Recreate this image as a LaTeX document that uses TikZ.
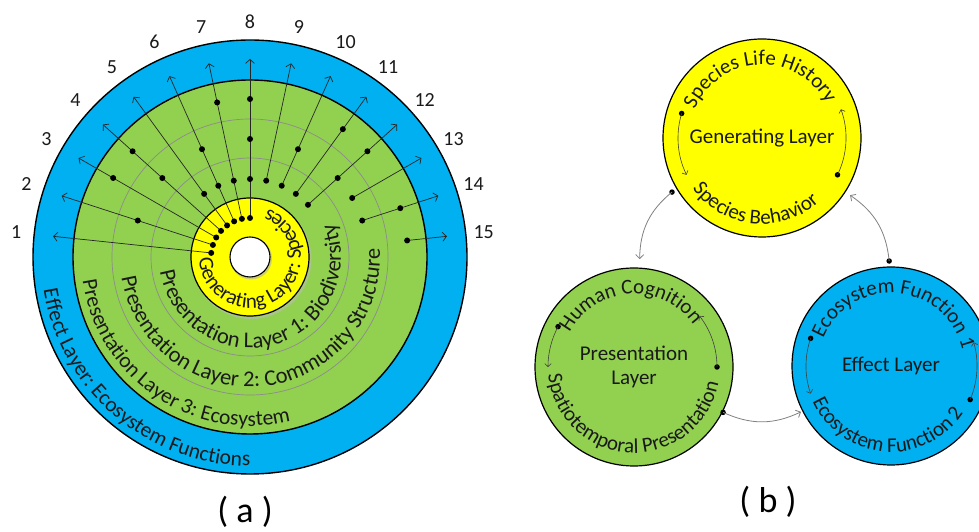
\documentclass[tikz,border=0pt]{standalone}
\usepackage{fontspec}
\setmainfont{Carlito}
\usetikzlibrary{arrows.meta,decorations.text}
\definecolor{ylw}{HTML}{FFFF00}
\definecolor{grn}{HTML}{92D050}
\definecolor{blu}{HTML}{00B0F0}
\definecolor{txt}{HTML}{1A1A1A}
\newcommand{\ringfont}[1]{\fontsize{#1}{#1}\selectfont\color{txt}}
\newcommand{\smallring}{\fontsize{21}{21}\selectfont\color{txt}}
\begin{document}
\begin{tikzpicture}[x=1pt,y=1pt,
  dot/.style={circle,fill=black,inner sep=0pt,minimum size=6pt},
  sdot/.style={circle,fill=black,inner sep=0pt,minimum size=5.5pt},
  ray/.style={draw=black!85,line width=0.7pt,-{Straight Barb[length=4pt,width=9pt]}},
  ring/.style={draw=black,line width=1.4pt},
  grayring/.style={draw=black!45,line width=0.7pt},
  numlabel/.style={font=\fontsize{20}{20}\selectfont,text=txt},
  caption/.style={font=\fontsize{36}{36}\selectfont,text=black},
  centertext/.style={font=\fontsize{21}{24}\selectfont,text=txt,align=center},
  inarc/.style={draw=black!75,line width=0.6pt,-{Straight Barb[length=3pt,width=6.5pt]}},
  linkarrow/.style={draw=black!50,line width=0.8pt,-{Straight Barb[length=4pt,width=8pt]}}
]
\useasboundingbox (0,0) rectangle (979,532);

% ---------------- (a) ----------------
\begin{scope}[shift={(250,275)}]
  \fill[blu] (0,0) circle (217);
  \draw[ring] (0,0) circle (217);
  \fill[grn] (0,0) circle (177);
  \draw[ring] (0,0) circle (177);
  \draw[grayring] (0,0) circle (138);
  \draw[grayring] (0,0) circle (99);
  \fill[black!25,opacity=0.5] (1.5,-2) circle (60);
  \fill[ylw] (0,0) circle (59);
  \draw[ring,line width=1.2pt] (0,0) circle (59);
  \fill[black!30,opacity=0.6] (1,-1.5) circle (21);
  \fill[white] (0,0) circle (20);
  \draw[ring,line width=1.1pt] (0,0) circle (20);

  % texts along rings
  \path[decorate,decoration={text along path,text align=left,
     text={|\ringfont{21}|Generating Layer: Species}}]
     (182:51) arc[start angle=182,end angle=470,radius=51];
  \path[decorate,decoration={text along path,text align=left,
     text={|\ringfont{22.5}|Presentation Layer 1: Biodiversity}}]
     (189:91) arc[start angle=189,end angle=420,radius=91];
  \path[decorate,decoration={text along path,text align=left,
     text={|\ringfont{22.5}|Presentation Layer 2: Community Structure}}]
     (189:130) arc[start angle=189,end angle=400,radius=130];
  \path[decorate,decoration={text along path,text align=left,
     text={|\ringfont{21.5}|Presentation Layer 3: Ecosystem}}]
     (188:169) arc[start angle=188,end angle=330,radius=169];
  \path[decorate,decoration={text along path,text align=left,
     text={|\ringfont{21.5}|Effect Layer: Ecosystem Functions}}]
     (189:209) arc[start angle=189,end angle=320,radius=209];

  % rays
  \foreach \k/\s/\rs in {1/39/{39},2/39/{39,118},3/39/{39,158},4/39/{39,118,158},
      5/39/{39,78},6/39/{39,78,118},7/39/{39,78,158},8/39/{39,78,118,158},
      9/78/{78},10/78/{78,118},11/78/{78,158},12/78/{78,118,158},
      13/118/{118},14/118/{118,158},15/158/{158}}{
    \pgfmathsetmacro{\a}{186-12*\k}
    \coordinate (tip\k) at (\a:198);
    \coordinate (st\k) at (\a:\s);
    \draw[ray] (st\k) -- (tip\k);
    \foreach \r in \rs { \node[dot] (d\k-\r) at (\a:\r) {}; }
    \node[numlabel] (n\k) at (\a:235) {\k};
  }
\end{scope}
\node[caption] (capa) at (245,20) {( a )};

% ---------------- (b) ----------------
% yellow: generating layer
\begin{scope}[shift={(762,394)}]
  \fill[ylw] (0,0) circle (99);
  \draw[ring,line width=1.2pt] (0,0) circle (99);
  \path[decorate,decoration={text along path,text align=left,
     text={|\smallring|Species Life History}}]
     (157:73) arc[start angle=157,end angle=-60,radius=73];
  \path[decorate,decoration={text along path,text align=left,
     text={|\smallring|Species Behavior}}]
     (216:86) arc[start angle=216,end angle=345,radius=86];
  \node[centertext] (gen) at (0,0) {Generating Layer};
  \node[sdot] (yl) at (163:84) {};
  \draw[inarc] (yl.center) arc[start angle=163,end angle=206,radius=84];
  \node[sdot] (yr) at (-26:84) {};
  \draw[inarc] (yr.center) arc[start angle=-26,end angle=20,radius=84];
  \node[sdot] (yout) at (211:105) {};
  \coordinate (yin) at (327:105);
\end{scope}

% green: presentation layer
\begin{scope}[shift={(634,165)}]
  \fill[grn] (0,0) circle (99);
  \draw[ring,line width=1.2pt] (0,0) circle (99);
  \path[decorate,decoration={text along path,text align=left,
     text={|\smallring|Human Cognition}}]
     (152:73) arc[start angle=152,end angle=-40,radius=73];
  \path[decorate,decoration={text along path,text align=left,
     text={|\smallring|Spatiotemporal Presentation}}]
     (185:86) arc[start angle=185,end angle=380,radius=86];
  \node[centertext] (pres) at (0,0) {Presentation\\Layer};
  \node[sdot] (gl) at (152:86) {};
  \draw[inarc] (gl.center) arc[start angle=152,end angle=180,radius=86];
  \node[sdot] (gr) at (0:83) {};
  \draw[inarc] (gr.center) arc[start angle=0,end angle=38,radius=83];
  \node[sdot] (gout) at (333:100) {};
  \coordinate (gin) at (87:108);
\end{scope}

% blue: effect layer
\begin{scope}[shift={(891,166)}]
  \fill[blu] (0,0) circle (99);
  \draw[ring,line width=1.2pt] (0,0) circle (99);
  \path[decorate,decoration={text along path,text align=left,
     text={|\smallring|Ecosystem Function 1}}]
     (158:73) arc[start angle=158,end angle=-60,radius=73];
  \path[decorate,decoration={text along path,text align=left,
     text={|\smallring|Ecosystem Function 2}}]
     (204:86) arc[start angle=204,end angle=380,radius=86];
  \node[centertext] (eff) at (0,0) {Effect Layer};
  \node[sdot] (bl) at (161:85) {};
  \draw[inarc] (bl.center) arc[start angle=161,end angle=199,radius=85];
  \node[sdot] (br) at (-23:86) {};
  \draw[inarc] (br.center) arc[start angle=-23,end angle=16,radius=86];
  \node[sdot] (bout) at (91:105) {};
  \coordinate (bin) at (207:101);
\end{scope}

\draw[linkarrow] (yout.center) to[bend right=25] (gin);
\draw[linkarrow] (gout.center) to[bend right=25] (bin);
\draw[linkarrow] (bout.center) to[bend right=25] (yin);

\node[caption] (capb) at (768,30) {( b )};
\end{tikzpicture}
\end{document}
